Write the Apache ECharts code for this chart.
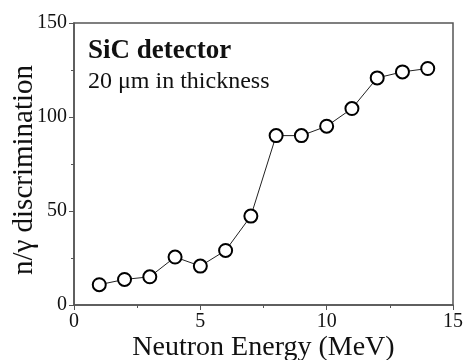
<!DOCTYPE html>
<html>
<head>
<meta charset="utf-8">
<script src="https://cdn.jsdelivr.net/npm/echarts@6/dist/echarts.min.js"></script>
<style>
  html, body { margin: 0; padding: 0; background: #fff; }
  #chart { width: 463px; height: 360px; }
</style>
</head>
<body>
<div id="chart"></div>
<script>
// neutron energy (MeV) vs n/gamma discrimination
var energy = [1, 2, 3, 4, 5, 6, 7, 8, 9, 10, 11, 12, 13, 14];
var discrimination = [10.8, 13.6, 15.0, 25.5, 20.7, 29.0, 47.3, 90.1, 90.1, 95.1, 104.5, 120.8, 124.0, 125.8];
var xTicks = [0, 5, 10, 15];
var yTicks = [0, 50, 100, 150];

var serif = '"Liberation Serif", "DejaVu Serif", serif';
var axisColor = '#555';

var chart = echarts.init(document.getElementById('chart'));
var option = {
  animation: false,
  grid: {
    left: 74, right: 10, top: 23, bottom: 55,
    containLabel: false,
    outerBoundsMode: 'none',
    show: true,
    borderColor: axisColor,
    borderWidth: 1.5
  },
  xAxis: {
    type: 'value',
    min: xTicks[0],
    max: xTicks[xTicks.length - 1],
    interval: 5,
    name: 'Neutron Energy (MeV)',
    nameLocation: 'middle',
    nameGap: 29,
    nameMoveOverlap: false,
    nameTextStyle: { fontFamily: serif, fontSize: 28, color: '#111' },
    axisLine: { lineStyle: { color: axisColor, width: 1.5 } },
    axisTick: { length: 5, lineStyle: { color: axisColor } },
    minorTick: { show: true, splitNumber: 2, length: 3, lineStyle: { color: axisColor } },
    splitLine: { show: false },
    axisLabel: { fontFamily: serif, fontSize: 20, color: '#111', margin: 7 }
  },
  yAxis: {
    type: 'value',
    min: yTicks[0],
    max: yTicks[yTicks.length - 1],
    interval: 50,
    name: 'n/\u03b3 discrimination',
    nameLocation: 'middle',
    nameGap: 35,
    nameMoveOverlap: false,
    nameTextStyle: { fontFamily: serif, fontSize: 29, color: '#111', padding: [0, 12, 0, 0] },
    axisLine: { lineStyle: { color: axisColor, width: 1.5 } },
    axisTick: { length: 5, lineStyle: { color: axisColor } },
    minorTick: { show: true, splitNumber: 2, length: 3, lineStyle: { color: axisColor } },
    splitLine: { show: false },
    axisLabel: { fontFamily: serif, fontSize: 20, color: '#111', margin: 7 }
  },
  graphic: [
    {
      type: 'text', left: 88, top: 38,
      style: { text: 'SiC detector', font: 'bold 27px ' + serif, fill: '#111' }
    },
    {
      type: 'text', left: 88, top: 70,
      style: { text: '20 \u03bcm in thickness', font: '24px ' + serif, fill: '#111' }
    }
  ],
  series: [{
    type: 'line',
    data: energy.map(function (e, i) { return [e, discrimination[i]]; }),
    symbol: 'circle',
    symbolSize: 13,
    showAllSymbol: true,
    lineStyle: { color: '#222', width: 1 },
    itemStyle: { color: '#fff', borderColor: '#000', borderWidth: 2 }
  }]
};
chart.setOption(option);
</script>
</body>
</html>
